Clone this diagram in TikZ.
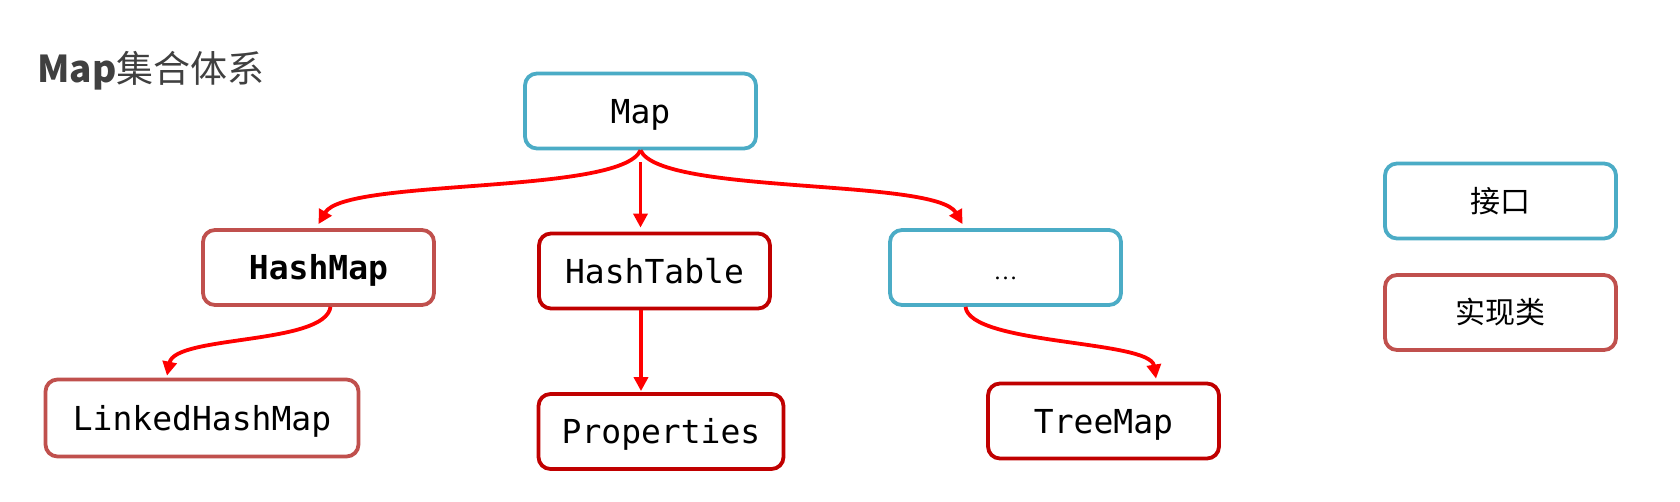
\documentclass[tikz,border=0pt]{standalone}
\usepackage{fontspec}
\setmonofont{DejaVu Sans Mono}
\newfontfamily\cjk{Noto Sans CJK SC}
\newfontfamily\dotsfont{Liberation Serif}
\usetikzlibrary{arrows.meta}
\definecolor{ifcol}{HTML}{4BACC6}
\definecolor{implcol}{HTML}{C0504D}
\definecolor{darkimpl}{HTML}{C00000}
\definecolor{titlecol}{HTML}{404040}
\tikzset{
  boxbase/.style={draw, rounded corners=12pt, line width=3.8pt, fill=white,
    inner sep=0pt, minimum width=231pt, minimum height=75pt,
    text height=24pt, text depth=0pt, font=\ttfamily\fontsize{33}{36}\selectfont},
  ifbox/.style={boxbase, draw=ifcol},
  implbox/.style={boxbase, draw=implcol},
  darkbox/.style={boxbase, draw=darkimpl},
  legendtext/.style={font=\cjk\fontsize{30}{34}\selectfont, text height=, text depth=},
  conn/.style={draw=red, line width=3.8pt, -{Triangle[length=14pt,width=14pt]}}
}
\begin{document}
\begin{tikzpicture}[x=1pt,y=-1pt]
\useasboundingbox[fill=white] (0,0) rectangle (1680,501);
\node[anchor=base west, text=titlecol, inner sep=0pt, font=\cjk\fontsize{37}{40}\selectfont] (title) at (37,82) {\textbf{Map}集合体系};

\node[ifbox] (map) at (640.5,111) {Map};
\node[implbox] (hashmap) at (318.5,267.5) {\bfseries HashMap};
\node[darkbox] (hashtable) at (654.5,271) {HashTable};
\node[ifbox] (dots) at (1005.5,267.5) {\dotsfont\fontsize{24}{26}\selectfont …};
\node[implbox, minimum width=313pt, minimum height=77pt] (lhm) at (202,418) {LinkedHashMap};
\node[darkbox, minimum width=245pt] (props) at (661,431.5) {Properties};
\node[darkbox] (treemap) at (1103.5,421) {TreeMap};

\node[ifbox, legendtext] (legif) at (1500.5,201) {接口};
\node[implbox, legendtext] (legimpl) at (1500.5,312.5) {实现类};

\coordinate (hmtop) at ([yshift=4pt]hashmap.north);
\coordinate (dtop) at ([xshift=-43pt,yshift=4pt]dots.north);
\draw[conn] (map.south) .. controls (620,195) and (345,178) .. (hmtop);
\draw[conn] (map.south) .. controls (661,195) and (936,178) .. (dtop);
\draw[conn, shorten <=12pt] (map.south) -- ([yshift=4pt]map.south |- hashtable.north);

\coordinate (hmbot) at ([xshift=12pt]hashmap.south);
\coordinate (lhmtop) at ([xshift=-35pt,yshift=2pt]lhm.north);
\draw[conn] (hmbot) .. controls (325,345) and (175,335) .. (lhmtop);

\coordinate (htbot) at ([xshift=-13.5pt]hashtable.south);
\draw[conn] (htbot) -- ([yshift=1pt]htbot |- props.north);

\coordinate (dbot) at ([xshift=-40pt]dots.south);
\coordinate (tmtop) at ([xshift=52.5pt,yshift=3pt]treemap.north);
\draw[conn] (dbot) .. controls (970,345) and (1150,340) .. (tmtop);
\end{tikzpicture}
\end{document}
